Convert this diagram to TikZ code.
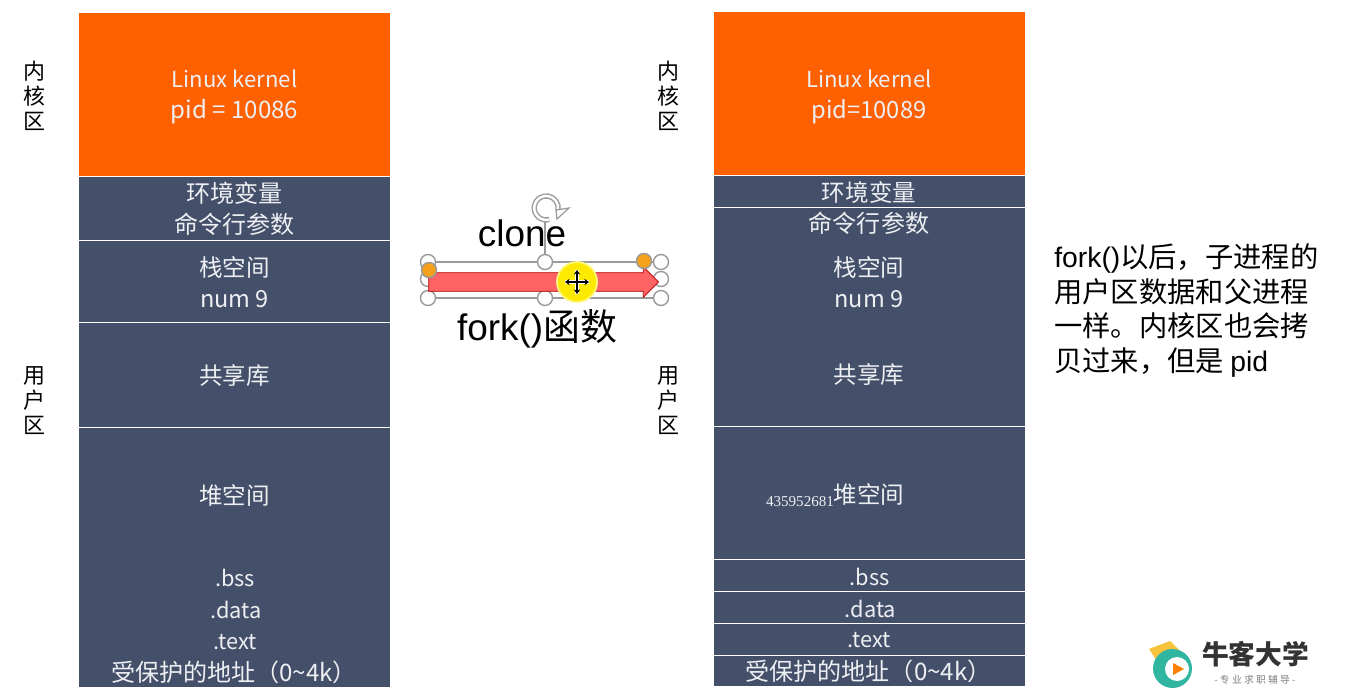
\documentclass[tikz,border=0pt]{standalone}
\usepackage{fontspec}
\setmainfont{Noto Sans CJK SC}
\newfontfamily\arialfont{Liberation Sans}
\newfontfamily\seriffont{Liberation Serif}
\usetikzlibrary{shapes.arrows, arrows.meta}

\definecolor{blockblue}{HTML}{44506A}
\definecolor{kernelorange}{HTML}{FF6000}
\definecolor{labelwhite}{HTML}{EDEFF3}
\definecolor{handlegray}{HTML}{9A9A9A}
\definecolor{handleorange}{HTML}{F5A11C}
\definecolor{arrowred}{HTML}{FF6464}
\definecolor{logoteal}{HTML}{2FB5A0}
\definecolor{logoyellow}{HTML}{F8C33A}
\definecolor{logotext}{HTML}{333333}

\tikzset{
  block/.style={rectangle, fill=blockblue, minimum width=6.22cm, inner sep=0pt, outer sep=0pt},
  kernelblock/.style={block, fill=kernelorange},
  lbl/.style={text=labelwhite, align=center, inner sep=0pt, font=\fontsize{13.4}{17.4}\selectfont},
  kernellbl/.style={lbl, font=\fontsize{12.6}{17.2}\selectfont},
  seglbl/.style={lbl, font=\fontsize{12.4}{15}\selectfont},
  protlbl/.style={lbl, font=\fontsize{13.7}{15}\selectfont},
  sidelbl/.style={align=center, inner sep=0pt, font=\fontsize{12.5}{14.2}\selectfont},
  handle/.style={circle, draw=handlegray, fill=white, line width=0.8pt, minimum size=0.3cm, inner sep=0pt},
  orangehandle/.style={handle, fill=handleorange},
  handleline/.style={handlegray, line width=0.8pt},
  movetip/.style={{Stealth[length=2.6pt,width=3.6pt]}-{Stealth[length=2.6pt,width=3.6pt]}, line width=0.6pt}
}

\begin{document}
\begin{tikzpicture}[x=0.02cm, y=-0.02cm]
  \useasboundingbox (0,0) rectangle (1352,696);

  % --- Left stack ---
  \node[kernelblock, minimum height=3.26cm] (lkernel) at (234.5,94.5) {};
  \node[block, minimum height=1.26cm] (lenv) at (234.5,208.5) {};
  \node[block, minimum height=1.62cm] (lstack) at (234.5,281.5) {};
  \node[block, minimum height=2.08cm] (lshared) at (234.5,375) {};
  \node[block, minimum height=5.18cm] (lheap) at (234.5,557.5) {};

  \node[kernellbl] (lkerneltxt) at (234.5,97) {Linux kernel\\\fontsize{13.7}{17.2}\selectfont pid = 10086};
  \node[lbl, font=\fontsize{13.7}{17.8}\selectfont] (lenvtxt) at (234.5,208.5) {环境变量\\命令行参数};
  \node[lbl] (lstacktxt) at (234.5,282) {栈空间\\num 9};
  \node[lbl] (lsharedtxt) at (234.5,376) {共享库};
  \node[lbl] (lheaptxt) at (234.5,495) {堆空间};
  \node[seglbl] (lbss) at (235,578) {.bss};
  \node[seglbl] (ldata) at (236,610) {.data};
  \node[seglbl] (ltext) at (235,642) {.text};
  \node[protlbl] (lprot) at (234,672) {受保护的地址（0\textasciitilde 4k）};

  % --- Right stack ---
  \node[kernelblock, minimum height=3.27cm] (rkernel) at (869.5,93.75) {};
  \node[block, minimum height=0.62cm] (renv) at (869.5,191.5) {};
  \node[block, minimum height=4.36cm] (rmid) at (869.5,317) {};
  \node[block, minimum height=2.64cm] (rheap) at (869.5,493) {};
  \node[block, minimum height=0.62cm] (rbssbox) at (869.5,575.5) {};
  \node[block, minimum height=0.62cm] (rdatabox) at (869.5,607.5) {};
  \node[block, minimum height=0.62cm] (rtextbox) at (869.5,639.5) {};
  \node[block, minimum height=0.60cm] (rprotbox) at (869.5,671) {};

  \node[kernellbl] (rkerneltxt) at (869,97) {Linux kernel\\\fontsize{13.5}{17.2}\selectfont pid=10089};
  \node[lbl] (renvtxt) at (869,192) {环境变量};
  \node[lbl, font=\fontsize{13.7}{17}\selectfont] (rargtxt) at (869,223) {命令行参数};
  \node[lbl] (rstacktxt) at (869,282) {栈空间\\num 9};
  \node[lbl] (rsharedtxt) at (869,375) {共享库};
  \node[lbl] (rheaptxt) at (869,494) {堆空间};
  \node[lbl, font=\seriffont\fontsize{8.6}{10}\selectfont] (rnumber) at (800,502) {435952681};
  \node[seglbl] (rbss) at (869.5,576.5) {.bss};
  \node[seglbl] (rdata) at (870.5,608.5) {.data};
  \node[seglbl] (rtext) at (869.5,640.5) {.text};
  \node[protlbl] (rprot) at (868.5,671) {受保护的地址（0\textasciitilde 4k）};

  % --- Side labels ---
  \node[sidelbl] (lkernside) at (34,96) {内\\核\\区};
  \node[sidelbl] (luserside) at (34,401) {用\\户\\区};
  \node[sidelbl] (rkernside) at (668,96) {内\\核\\区};
  \node[sidelbl] (ruserside) at (668,401) {用\\户\\区};

  % --- Note on the right ---
  \node[anchor=north west, align=left, inner sep=0pt, font=\fontsize{16.1}{19.8}\selectfont] (note) at (1054,243)
    {{\arialfont fork()}以后，子进程的\\用户区数据和父进程\\一样。内核区也会拷\\贝过来，但是 {\arialfont pid}};

  % --- Selected arrow with its handles ---
  \node[font=\arialfont\fontsize{21}{24}\selectfont, inner sep=0pt] (clone) at (522,233) {clone};
  \node[font=\fontsize{21}{24}\selectfont, inner sep=0pt] (forklbl) at (537,329) {\arialfont fork()\normalfont 函数};

  \node[handle] (hnw) at (428,262) {};
  \node[handle] (hn) at (545,262) {};
  \node[handle] (hne) at (661,262) {};
  \node[handle] (hw) at (428,279) {};
  \node[handle] (he) at (661,279) {};
  \node[handle] (hsw) at (428,298) {};
  \node[handle] (hs) at (545,298) {};
  \node[handle] (hse) at (661,298) {};
  \coordinate (hrot) at (545,222);

  \draw[handleline] (hnw) -- (hn) -- (hne);
  \draw[handleline] (hsw) -- (hs) -- (hse);
  \draw[handleline] (hn) -- (hrot);

  \node[single arrow, fill=arrowred, draw=red!70!black, line width=0.4pt, inner xsep=0pt, inner ysep=0.18cm,
        minimum height=4.6cm, single arrow head extend=0.12cm,
        single arrow head indent=0pt] (forkarrow) at (539,282) {};

  \node[orangehandle] (adjleft) at (429,270) {};
  \node[orangehandle] (adjright) at (644,261) {};

  % --- Rotate handle ---
  \draw[handlegray, line width=3pt] (558,210) arc[start angle=-10, end angle=285, radius=0.24cm];
  \draw[white, line width=1.4pt] (558,210) arc[start angle=-10, end angle=285, radius=0.24cm];
  \draw[handlegray, fill=white, line width=0.7pt] (556,210) -- (569,208) -- (557,219) -- cycle;

  % --- Cursor ---
  \node[circle, fill=yellow!92!orange, draw=yellow!50, line width=1pt, minimum size=0.8cm, inner sep=0pt] (cursor) at (577,282) {};
  \draw[white, line width=1.8pt] (565,282) -- (589,282);
  \draw[white, line width=1.8pt] (577,270) -- (577,294);
  \draw[movetip] (565,282) -- (589,282);
  \draw[movetip] (577,270) -- (577,294);

  % --- Logo ---
  \fill[logoyellow] (1149,649) -- (1170,641) -- (1181,652) -- (1166,652) -- (1157,661) -- cycle;
  \fill[logoteal] (1172.5,668.5) circle[radius=0.39cm];
  \node[circle, fill=white, minimum size=0.48cm, inner sep=0pt] (logoring) at (1177,669) {};
  \fill[orange] (1173,663) -- (1184,669) -- (1173,675) -- cycle;
  \node[text=logotext, inner sep=0pt, font=\bfseries\fontsize{15.2}{18}\selectfont] (logotitle) at (1255.5,654) {牛客大学};
  \node[text=gray, inner sep=0pt, font=\fontsize{5.6}{6}\selectfont] (logosub) at (1255,680) {- 专 业 求 职 辅 导 -};

\end{tikzpicture}
\end{document}
